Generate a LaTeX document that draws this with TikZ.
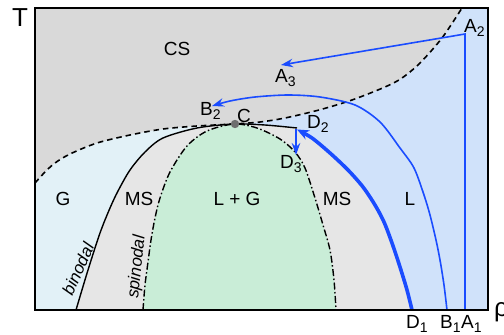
\documentclass[tikz,border=0pt]{standalone}
\usepackage{fontspec}
\setmainfont{Liberation Sans}
\usetikzlibrary{arrows.meta}
\definecolor{csgray}{HTML}{D9D9D9}
\definecolor{gblue}{HTML}{E2F1F7}
\definecolor{msgray}{HTML}{E6E6E6}
\definecolor{lggreen}{HTML}{C9EDD7}
\definecolor{lblue}{HTML}{D0E2FA}
\definecolor{lineblue}{HTML}{1A4CFF}
\definecolor{cdot}{HTML}{6E6E6E}
\newcommand\lsub[1]{\raisebox{-4pt}{\fontsize{14}{14}\selectfont #1}}
\begin{document}
\begin{tikzpicture}[x=1pt,y=-1pt,
  lbl/.style={font=\fontsize{19}{22}\selectfont, inner sep=0pt},
  axislbl/.style={font=\fontsize{26}{28}\selectfont, inner sep=0pt},
  curvelbl/.style={font=\fontsize{17}{20}\selectfont\itshape, inner sep=0pt},
  bluethin/.style={draw=lineblue, line width=1.6pt},
  bluethick/.style={draw=lineblue, line width=3.6pt},
  tip/.style={-{Stealth[length=12pt,width=8.5pt]}},
  dashedline/.style={draw=black, line width=1.6pt, dash pattern=on 5.5pt off 4pt},
  dashdotline/.style={draw=black, line width=1.4pt, dash pattern=on 7pt off 2.5pt on 1.5pt off 2.5pt},
  binline/.style={draw=black, line width=1.4pt},
  framebox/.style={draw=black, line width=2pt}
]
\useasboundingbox (0,0) rectangle (504,335);

% base liquid fill
\fill[lblue] (35,8) rectangle (488,310);

% gas region
\fill[gblue] (35,310) -- (35,8) -- (234,8) -- (234,124)
  -- plot[smooth] coordinates {(234,124) (197,128) (163,138) (145,152) (130,170) (118,191) (110,208) (100,233) (88,270) (76,310)}
  -- cycle;

% metastable region
\fill[msgray] plot[smooth] coordinates {(76,310) (88,270) (100,233) (110,208) (118,191) (130,170) (145,152) (163,138) (197,128) (234,124)}
  -- plot[smooth] coordinates {(234,124) (265,125) (297,128)}
  -- plot[smooth] coordinates {(297,129) (312,138) (330,153) (348,170) (363,187) (375,205) (384,222) (392,243) (400,267) (407,290) (412,310)}
  -- cycle;

% unstable region
\fill[lggreen] plot[smooth] coordinates {(143,310) (145,285) (148,262) (151,240) (155,218) (160,198) (170,172) (187,146) (207,131) (234,124) (257,128) (280,139) (295,152) (305,168) (315,198) (323,225) (330,250) (334,280) (336,310)} -- cycle;

% supercritical region
\fill[csgray] (35,8) -- (35,183)
  -- plot[smooth] coordinates {(35,183) (45,172) (55,163) (70,154) (97,143) (130,135) (163,129) (197,126) (234,124) (260,122) (285,118) (319,110) (352,100) (385,87) (402,78) (420,63) (442,38) (462,8)}
  -- cycle;

% boundaries
\draw[dashedline] plot[smooth] coordinates {(35,183) (45,172) (55,163) (70,154) (97,143) (130,135) (163,129) (197,126) (234,124) (260,122) (285,118) (319,110) (352,100) (385,87) (402,78) (420,63) (442,38) (462,8)};
\draw[binline] plot[smooth] coordinates {(76,310) (88,270) (100,233) (110,208) (118,191) (130,170) (145,152) (163,138) (197,128) (234,124) (265,125) (297,128)};
\draw[dashdotline] plot[smooth] coordinates {(143,310) (145,285) (148,262) (151,240) (155,218) (160,198) (170,172) (187,146) (207,131) (234,124) (257,128) (280,139) (295,152) (305,168) (315,198) (323,225) (330,250) (334,280) (336,310)};

% key points
\coordinate (pA1) at (465,310);
\coordinate (pA2) at (465,34);
\coordinate (pA3) at (281,65);
\coordinate (pD2) at (296,129);
\coordinate (pD3) at (296,155);

% paths
\draw[bluethin, tip] (pA1) -- (pA2) -- (pA3);
\draw[bluethin, tip] plot[smooth] coordinates {(447,310) (444,285) (440,260) (436,240) (430,215) (424,195) (414,168) (400,148) (380,122) (355,105) (320,97) (288,95) (255,97) (230,101) (212,106)};
\draw[bluethick, -{Stealth[length=12pt,width=10pt]}] plot[smooth] coordinates {(412,310) (407,290) (400,267) (392,243) (384,222) (375,205) (363,187) (348,170) (330,153) (312,138) (297,129.5)};
\draw[bluethin, tip] (pD2) -- (pD3);

% critical point
\fill[cdot] (235,124) circle (4.2pt);

% frame
\draw[framebox] (35,8) rectangle (488,310);

% labels
\node[axislbl] (tT) at (20,18) {T};
\node[axislbl, anchor=base west] (trho) at (494,316) {ρ};
\node[lbl] (tCS) at (177,49) {CS};
\node[lbl, anchor=base] (tG) at (63,205) {G};
\node[lbl, anchor=base] (tMS1) at (139,205) {MS};
\node[lbl, anchor=base] (tLG) at (237,205) {L + G};
\node[lbl, anchor=base] (tMS2) at (337,205) {MS};
\node[lbl, anchor=base] (tL) at (410,205) {L};
\node[lbl, anchor=base west] (tA2) at (464,32) {A\lsub{2}};
\node[lbl, anchor=base west] (tA3) at (275,82) {A\lsub{3}};
\node[lbl, anchor=base west] (tB2) at (200,115) {B\lsub{2}};
\node[lbl, anchor=base west] (tC) at (237,122) {C};
\node[lbl, anchor=base west] (tD2) at (307,128) {D\lsub{2}};
\node[lbl, anchor=base west] (tD3) at (280,168) {D\lsub{3}};
\node[lbl, anchor=base west] (tD1) at (406,328) {D\lsub{1}};
\node[lbl, anchor=base west] (tB1) at (440,328) {B\lsub{1}};
\node[lbl, anchor=base west] (tA1) at (461,328) {A\lsub{1}};
\node[curvelbl, rotate=66] (tbin) at (78,269) {binodal};
\node[curvelbl, rotate=84] (tspin) at (137,267) {spinodal};
\end{tikzpicture}
\end{document}
